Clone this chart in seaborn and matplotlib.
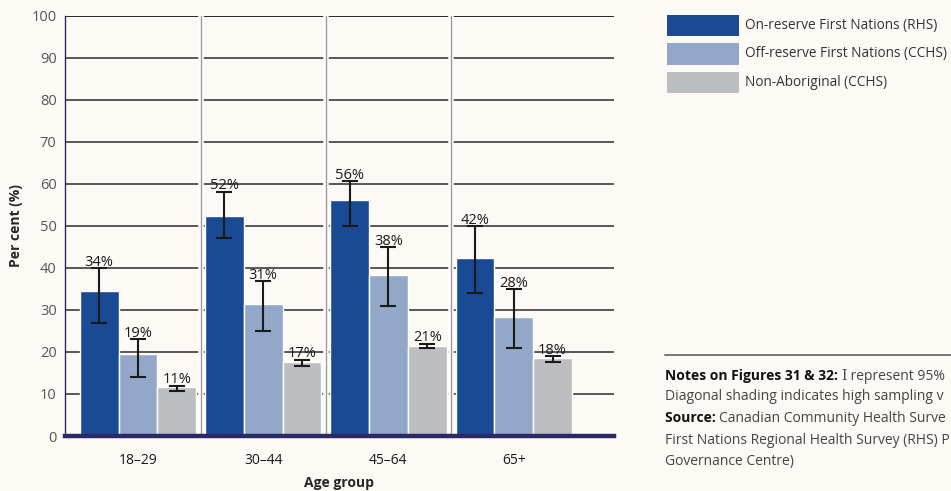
""" Per cent by age group: on-reserve / off-reserve First Nations vs non-Aboriginal """

import matplotlib
matplotlib.use('Agg')
import matplotlib.pyplot as plt
from matplotlib.patches import Rectangle
from matplotlib.lines import Line2D
import pandas as pd
import seaborn as sns

# dados
idades = ['18–29', '30–44', '45–64', '65+']
grupos = ['On-reserve First Nations (RHS)',
          'Off-reserve First Nations (CCHS)',
          'Non-Aboriginal (CCHS)']

on_reserve = [34.4, 52.3, 56.1, 42.3]
on_reserve_lo = [27.0, 47.1, 49.9, 34.1]
on_reserve_hi = [39.9, 58.1, 60.7, 49.9]

off_reserve = [19.4, 31.4, 38.3, 28.3]
off_reserve_lo = [14.1, 24.9, 31.0, 20.9]
off_reserve_hi = [23.1, 36.8, 44.9, 34.9]

non_aboriginal = [11.6, 17.5, 21.4, 18.5]
non_aboriginal_lo = [10.6, 16.7, 21.0, 17.6]
non_aboriginal_hi = [12.0, 18.2, 22.0, 19.0]

rotulos = [['34%', '52%', '56%', '42%'],
           ['19%', '31%', '38%', '28%'],
           ['11%', '17%', '21%', '18%']]

cores = ['#1a4a94', '#93a8c8', '#bcbec1']
fundo = '#fdf9f5'

sns.set_style('white')
plt.rcParams['font.family'] = ['Open Sans', 'DejaVu Sans']

df = pd.DataFrame({
    'idade': idades * 3,
    'grupo': [g for g in grupos for _ in idades],
    'valor': on_reserve + off_reserve + non_aboriginal,
})
limites = [(on_reserve_lo, on_reserve_hi),
           (off_reserve_lo, off_reserve_hi),
           (non_aboriginal_lo, non_aboriginal_hi)]

fig = plt.figure(figsize=(9.51, 4.91), dpi=100, facecolor=fundo)
ax = fig.add_axes([0.0683, 0.112, 0.5773, 0.856])
ax.set_facecolor(fundo)

# grade horizontal
for y in range(10, 101, 10):
    ax.axhline(y, color='#3c3c3c', lw=1.2, zorder=0.5)

# separadores verticais entre grupos
for x in [0.5, 1.5, 2.5]:
    ax.axvline(x, color='white', lw=4, zorder=0.6)
    ax.axvline(x, color='#9a9a9a', lw=1, zorder=0.7)

sns.barplot(
    data=df, x='idade', y='valor', hue='grupo',
    palette=cores, width=0.93, saturation=1,
    errorbar=None, legend=False, ax=ax, zorder=2
)

barras = list(ax.containers)
for i, cont in enumerate(barras):
    lo, hi = limites[i]
    vals = df[df['grupo'] == grupos[i]]['valor'].tolist()
    for j, barra in enumerate(cont):
        xc = barra.get_x() + barra.get_width() / 2
        ax.errorbar(
            xc, vals[j],
            yerr=[[vals[j] - lo[j]], [hi[j] - vals[j]]],
            fmt='none', ecolor='#1a1a1a', elinewidth=1.5,
            capsize=5.8, capthick=1.5, zorder=3
        )
        ax.text(xc, hi[j] - 0.4, rotulos[i][j], ha='center', va='bottom',
                fontsize=10.5, color='#1a1a1a', zorder=4)

ax.set_xlim(-0.583, 3.80)
ax.set_ylim(0, 100)
ax.set_yticks(range(0, 101, 10))
ax.tick_params(axis='y', length=0, labelsize=10.5, labelcolor='#555555', pad=6)
ax.tick_params(axis='x', length=0, labelsize=10, labelcolor='#1a1a1a', pad=12)

for lado in ['top', 'right']:
    ax.spines[lado].set_visible(False)
ax.spines['left'].set_color('#2b2a66')
ax.spines['left'].set_linewidth(1)
ax.spines['bottom'].set_color('#2b2a66')
ax.spines['bottom'].set_linewidth(3.2)
ax.spines['bottom'].set_zorder(5)
ax.axhline(100, color='#2a2a2a', lw=1.3, zorder=0.5)

ax.set_xlabel('Age group', fontsize=10, fontweight='bold', labelpad=6)
ax.set_ylabel('Per cent (%)', fontsize=10, fontweight='bold', labelpad=6)

# legenda desenhada à mão
W, H = 951, 491
for k, (cor, nome) in enumerate(zip(cores, grupos)):
    topo = 15 + k * 28.5
    fig.add_artist(Rectangle((667 / W, 1 - (topo + 21) / H), 72 / W, 21 / H,
                             facecolor=cor, edgecolor='none',
                             transform=fig.transFigure))
    fig.text(745 / W, 1 - (topo + 10.5) / H, nome, fontsize=9.8,
             color='#333333', va='center', ha='left')

# notas
fig.add_artist(Line2D([665 / W, 1.0], [1 - 355 / H] * 2, color='#777777',
                      lw=1.4, transform=fig.transFigure))

renderer = fig.canvas.get_renderer()


def linha(partes, x0, y):
    x = x0
    for texto, peso, cor, fam in partes:
        t = fig.text(x, y, texto, fontsize=10.0, fontweight=peso, color=cor,
                     va='center', ha='left', family=fam)
        larg = t.get_window_extent(renderer).width
        x += larg / fig.bbox.width


x0 = 665 / W
linha([('Notes on Figures 31 & 32: ', 'bold', '#111111', ['Open Sans']),
       ('I', 'normal', '#444444', ['DejaVu Serif']),
       (' represent 95%', 'normal', '#444444', ['Open Sans'])],
      x0, 1 - 376 / H)
linha([('Diagonal shading indicates high sampling v', 'normal',
        '#444444', ['Open Sans'])], x0, 1 - 397 / H)
linha([('Source: ', 'bold', '#111111', ['Open Sans']),
       ('Canadian Community Health Surve', 'normal',
        '#444444', ['Open Sans'])], x0, 1 - 418 / H)
linha([('First Nations Regional Health Survey (RHS) P',
        'normal', '#444444', ['Open Sans'])], x0, 1 - 440 / H)
linha([('Governance Centre)', 'normal', '#444444', ['Open Sans'])],
      x0, 1 - 461 / H)

fig.savefig('out.png', dpi=100, facecolor=fundo)
